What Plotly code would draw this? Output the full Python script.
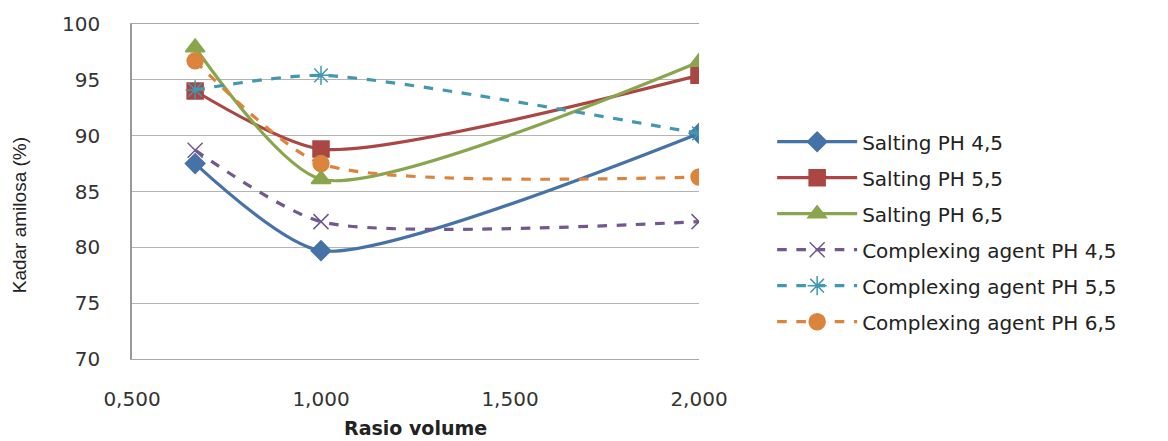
import plotly.graph_objects as go

# Ratio volume (x) and amylose content (%) per treatment
rasio_volume = [0.667, 1.0, 2.0]

salting_ph45 = [87.5, 79.7, 90.2]
salting_ph55 = [94.0, 88.8, 95.4]
salting_ph65 = [97.9, 86.1, 96.6]
complexing_ph45 = [88.7, 82.3, 82.3]
complexing_ph55 = [94.1, 95.4, 90.2]
complexing_ph65 = [96.7, 87.5, 86.3]

series_names = [
    "Salting PH 4,5",
    "Salting PH 5,5",
    "Salting PH 6,5",
    "Complexing agent PH 4,5",
    "Complexing agent PH 5,5",
    "Complexing agent PH 6,5",
]

x_tickvals = [0.5, 1.0, 1.5, 2.0]
x_ticktext = ["0,500", "1,000", "1,500", "2,000"]
y_tickvals = [70, 75, 80, 85, 90, 95, 100]

series_values = [salting_ph45, salting_ph55, salting_ph65,
                 complexing_ph45, complexing_ph55, complexing_ph65]
colors = ["#4572A7", "#AA4643", "#89A54E", "#71588F", "#4198AF", "#DB843D"]
dashes = ["solid", "solid", "solid", "dash", "dash", "dash"]
symbols = ["diamond", "square", "triangle-up", "x-thin-open", "asterisk-open", "circle"]
sizes = [15, 16, 17, 15, 16, 16]

fig = go.Figure()
for i, (name, vals, c, d, s, sz) in enumerate(zip(series_names, series_values, colors, dashes, symbols, sizes)):
    fig.add_trace(go.Scatter(
        x=rasio_volume, y=vals, name=name, mode="lines+markers",
        legendgroup=f"g{i}",
        line=dict(color=c, width=3.2, dash=d, shape="spline", smoothing=0.65),
        marker=dict(symbol=s, size=sz, color=c, line=dict(color=c, width=1.5)),
    ))

font_main = "DejaVu Sans"
fig.update_layout(
    width=1168, height=441,
    margin=dict(l=132, r=469, t=19, b=82),
    paper_bgcolor="white", plot_bgcolor="white",
    showlegend=True,
    legend=dict(
        x=1.129, y=0.38, xanchor="left", yanchor="middle",
        font=dict(family=font_main, size=20, color="#222"),
        itemwidth=80, tracegroupgap=7, bgcolor="rgba(0,0,0,0)",
    ),
    xaxis=dict(
        range=[0.5, 2.0], tickvals=x_tickvals, ticktext=x_ticktext,
        showgrid=False, zeroline=False,
        showline=True, linecolor="#a8a8a8", linewidth=1.2, mirror=True,
        ticks="", ticklabelstandoff=22,
        tickfont=dict(family=font_main, size=20, color="#333"),
    ),
    yaxis=dict(
        range=[70, 100], tickvals=y_tickvals,
        showgrid=True, gridcolor="#b4b4b4", gridwidth=1.2,
        zeroline=False, showline=True, linecolor="#9a9a9a", linewidth=1.5,
        ticks="", ticklabelstandoff=26,
        tickfont=dict(family=font_main, size=20, color="#333"),
    ),
    annotations=[
        dict(text="<b>Rasio volume</b>", xref="paper", yref="paper",
             x=0.5, y=-0.205, xanchor="center", yanchor="middle", showarrow=False,
             font=dict(family=font_main, size=19, color="#222")),
        dict(text="Kadar amilosa (%)", xref="paper", yref="paper",
             x=-0.197, y=0.43, xanchor="center", yanchor="middle", showarrow=False,
             textangle=-90,
             font=dict(family="Liberation Sans Narrow, Liberation Sans", size=19, color="#222")),
    ],
)

fig.write_html("out.html")
